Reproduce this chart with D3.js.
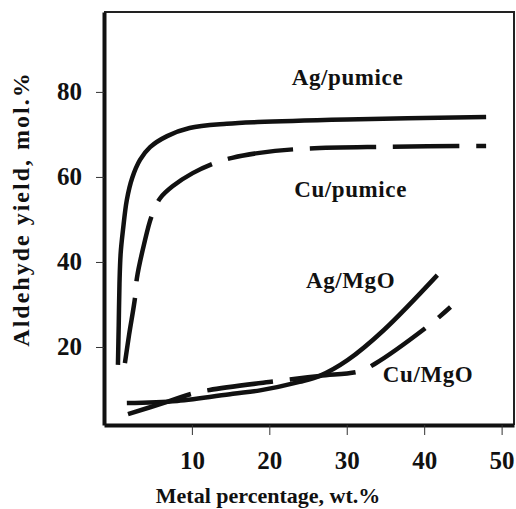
<!DOCTYPE html>
<html lang="en">
<head>
<meta charset="UTF-8">
<title>Aldehyde yield vs metal percentage</title>
<script src="https://d3js.org/d3.v7.min.js"></script>
<style>
  body { margin: 0; background: #fff; }
  svg text { font-family: "Liberation Serif", "DejaVu Serif", serif; font-weight: bold; fill: #111; }
  .curve { fill: none; stroke: #111; stroke-width: 4.5px; }
  .dashed { stroke-dasharray: 66 17; }
  .axis .domain { stroke: #111; stroke-width: 4px; }
  .axis .tick line { stroke: #333; stroke-width: 1px; }
  .axis .tick text { font-size: 25px; }
  .frame { stroke: #222; stroke-width: 2px; }
</style>
</head>
<body>
<div id="chart"></div>
<script>
  // data (x: wt.%, y: mol.%)
  const agPumice = [[0.45,15.8],[0.55,25],[0.65,35],[0.8,42],[1.1,47.5],[1.6,54.6],[2.3,59.8],[3.3,64],
    [4.6,67],[6.8,69.6],[9.7,71.5],[14.5,72.5],[18.5,72.9],[30,73.5],[48,74.1]];
  const cuPumice = [[1.35,16.2],[1.9,23],[2.65,31.5],[2.9,36.2],[3.8,44],[4.8,50.8],[5.9,55],[7.5,57.8],
    [10.1,60.9],[13,63.3],[15.2,64.5],[18.5,65.6],[24,66.6],[35,67.1],[48,67.3]];
  const agMgO = [[1.6,6.8],[8.1,7.3],[15.3,9.0],[18.8,9.8],[23.9,11.8],[26.5,13.2],[30.1,16.9],
    [34.8,24.0],[41.7,36.9]];
  const cuMgO = [[1.75,4.2],[6.8,7.1],[10,9.0],[12.3,9.9],[21,12],[26.5,13.2],[31.7,14.3],
    [33.6,16],[40.7,25.2],[43.4,29.4]];

  const xTicks = [10, 20, 30, 40, 50];
  const yTicks = [20, 40, 60, 80];

  const labels = [
    { text: "Ag/pumice", x: 30.1, y: 81.6 },
    { text: "Cu/pumice", x: 30.5, y: 55.3 },
    { text: "Ag/MgO", x: 30.5, y: 33.9 },
    { text: "Cu/MgO", x: 40.5, y: 11.8 }
  ];

  const width = 516, height = 509;
  const margin = { top: 12, right: 2, bottom: 84, left: 104 };

  const svg = d3.select("#chart").append("svg")
    .attr("width", width)
    .attr("height", height);

  const x = d3.scaleLinear().domain([-1.35, 51.6]).range([margin.left, width - margin.right]);
  const y = d3.scaleLinear().domain([1.65, 98.8]).range([height - margin.bottom, margin.top]);

  // top and right frame
  svg.append("path")
    .attr("class", "frame")
    .attr("fill", "none")
    .attr("d", `M${x.range()[0]},${y.range()[1]}H${x.range()[1]}V${y.range()[0]}`);

  // axes
  const xAxis = svg.append("g")
    .attr("class", "axis")
    .attr("transform", `translate(0,${y.range()[0]})`)
    .call(d3.axisBottom(x).tickValues(xTicks).tickSize(10).tickSizeOuter(0).tickPadding(16));

  const yAxis = svg.append("g")
    .attr("class", "axis")
    .attr("transform", `translate(${x.range()[0]},0)`)
    .call(d3.axisLeft(y).tickValues(yTicks).tickSize(8).tickSizeOuter(0).tickPadding(14));

  // drop the axis defaults (10px sans-serif) so the serif style wins
  [xAxis, yAxis].forEach(g => g.attr("font-size", null).attr("font-family", null));

  // curves
  const line = d3.line()
    .x(d => x(d[0]))
    .y(d => y(d[1]))
    .curve(d3.curveCatmullRom.alpha(0.5));

  svg.append("path").attr("class", "curve").attr("d", line(agPumice));
  svg.append("path").attr("class", "curve dashed").attr("d", line(cuPumice));
  svg.append("path").attr("class", "curve").attr("d", line(agMgO));
  svg.append("path").attr("class", "curve dashed").attr("d", line(cuMgO));

  // curve labels
  svg.selectAll(".lbl")
    .data(labels)
    .enter().append("text")
    .attr("class", "lbl")
    .attr("x", d => x(d.x))
    .attr("y", d => y(d.y))
    .attr("text-anchor", "middle")
    .style("font-size", "23px")
    .style("letter-spacing", "0.6px")
    .text(d => d.text);

  // axis titles
  svg.append("text")
    .attr("x", 268)
    .attr("y", 503)
    .attr("text-anchor", "middle")
    .style("font-size", "22px")
    .text("Metal percentage, wt.%");

  svg.append("text")
    .attr("transform", "translate(29,209) rotate(-90)")
    .attr("text-anchor", "middle")
    .style("font-size", "24px")
    .style("letter-spacing", "2px")
    .text("Aldehyde yield, mol.%");
</script>
</body>
</html>
